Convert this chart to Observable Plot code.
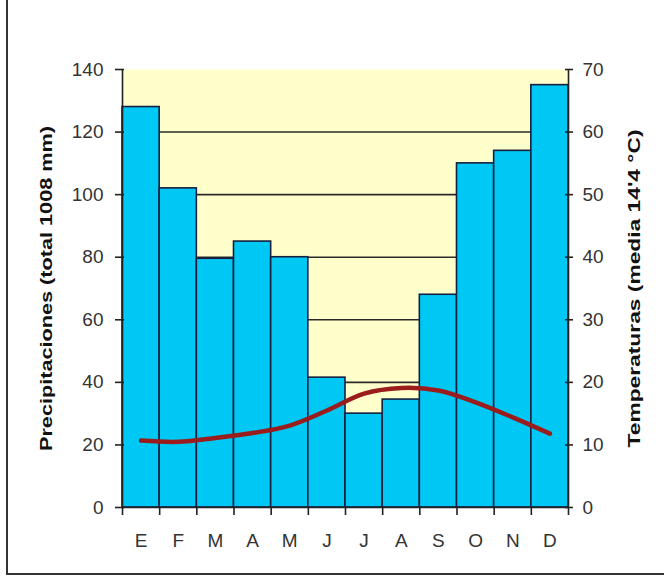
<!DOCTYPE html>
<html>
<head>
<meta charset="utf-8">
<script src="https://cdn.jsdelivr.net/npm/d3@7"></script>
<script src="https://cdn.jsdelivr.net/npm/@observablehq/plot@0.6"></script>
<style>
  html, body { margin: 0; padding: 0; background: #fff; }
  #wrap { position: relative; width: 664px; height: 578px; overflow: hidden; }
  #border { position: absolute; left: 6px; top: 0; width: 660px; height: 575px;
            border-left: 2px solid #333; border-bottom: 2px solid #333; box-sizing: border-box; }
  #chart { position: absolute; left: 0; top: 0; }
</style>
</head>
<body>
<div id="wrap"><div id="border"></div><div id="chart"></div></div>
<script>
const months = ["E","F","M","A","M","J","J","A","S","O","N","D"];
const precip = [128, 102, 79.5, 85, 80, 41.5, 30, 34.5, 68, 110, 114, 135];
const temp = [10.7, 10.5, 11.1, 11.9, 13.1, 15.5, 18.2, 19.1, 18.7, 16.8, 14.4, 11.8];
const precipTicks = [0, 20, 40, 60, 80, 100, 120, 140];
const gridLines = [20, 40, 60, 80, 100, 120];
const leftLabel = "Precipitaciones (total 1008 mm)";
const rightLabel = "Temperaturas (media 14'4 °C)";

const data = months.map((m, i) => ({i, m, p: precip[i], t: temp[i]}));
const font = "Liberation Sans, Arial, sans-serif";

const chart = Plot.plot({
  width: 664,
  height: 578,
  marginLeft: 122,
  marginRight: 96,
  marginTop: 69,
  marginBottom: 71,
  style: {fontFamily: font, color: "#333", background: "transparent"},
  x: {domain: [0, months.length], axis: null},
  y: {domain: [0, 140], axis: null},
  marks: [
    Plot.frame({fill: "#ffffcc", stroke: null}),
    Plot.ruleY(gridLines, {stroke: "#2a2a2a", strokeWidth: 1.6}),
    Plot.rect(data, {x1: d => d.i, x2: d => d.i + 1, y1: 0, y2: "p",
      fill: "#00c8f5", stroke: "#152040", strokeWidth: 1.6}),
    Plot.line(data, {x: d => d.i + 0.5, y: d => d.t * 2, curve: "catmull-rom",
      stroke: "#9a1c1c", strokeWidth: 4.5, strokeLinecap: "round"}),
    Plot.ruleX([0, months.length], {y1: 0, y2: 140, stroke: "#222", strokeWidth: 1.6}),
    Plot.ruleY([0], {stroke: "#222", strokeWidth: 1.6}),
    Plot.axisY(precipTicks, {anchor: "left", label: null, tickSize: 9, dx: 2, tickPadding: 12,
      fontSize: 19, stroke: "#222", strokeWidth: 1.6, fill: "#333"}),
    Plot.axisY(precipTicks, {anchor: "right", label: null, tickSize: 8, dx: -4, tickPadding: 10,
      tickFormat: d => d / 2, fontSize: 19, stroke: "#222", strokeWidth: 1.6, fill: "#333"}),
    Plot.axisX(d3.range(months.length + 1), {anchor: "bottom", label: null, tickSize: 8,
      tickFormat: () => "", stroke: "#222", strokeWidth: 1.6}),
    Plot.axisX(d3.range(months.length).map(i => i + 0.5), {anchor: "bottom", label: null, tickSize: 0,
      tickPadding: 26, tickFormat: d => months[Math.floor(d)], fontSize: 19, fill: "#333"}),
    Plot.text([leftLabel], {frameAnchor: "left", dx: -76, rotate: -90, text: d => d,
      textAnchor: "middle", fontWeight: "bold", fontSize: 17, fill: "#111"}),
    Plot.text([rightLabel], {frameAnchor: "right", dx: 66, rotate: -90, text: d => d,
      textAnchor: "middle", fontWeight: "bold", fontSize: 17, fill: "#111"})
  ]
});
d3.select(chart).selectAll("text").each(function() {
  const t = this.textContent;
  if (t === leftLabel) d3.select(this).attr("textLength", 325).attr("lengthAdjust", "spacingAndGlyphs");
  if (t === rightLabel) d3.select(this).attr("textLength", 318).attr("lengthAdjust", "spacingAndGlyphs");
});
document.getElementById("chart").appendChild(chart);
</script>
</body>
</html>
